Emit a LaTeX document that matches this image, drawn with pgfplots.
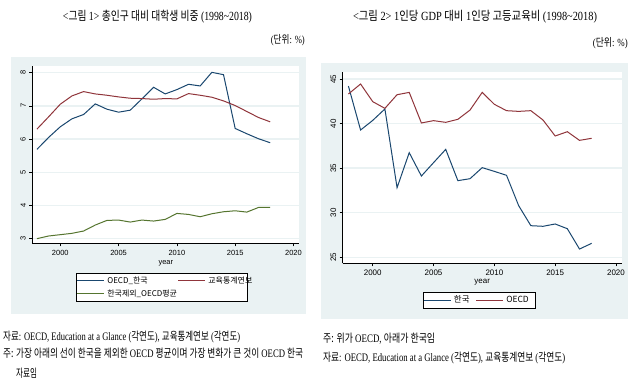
\documentclass[border=0pt]{standalone}
\usepackage{fontspec}
\usepackage{graphicx}
\usepackage{pgfplots}
\pgfplotsset{compat=1.18}
\setmainfont{Liberation Serif}
\newfontfamily\kr{Noto Sans CJK KR}
\newfontfamily\ars{Liberation Sans}
\definecolor{sblue}{RGB}{26,71,111}
\definecolor{sred}{RGB}{144,53,59}
\definecolor{sgreen}{RGB}{85,117,47}
\definecolor{bgc}{RGB}{234,242,243}
\pgfplotsset{stata/.style={
  scale only axis, axis lines=left, axis line style={-, black, line width=0.6bp},
  tick align=outside, major tick length=3bp, tick style={black, line width=0.6bp},
  ymajorgrids, grid style={bgc, line width=1.4bp},
  axis background/.style={fill=white},
  /pgf/number format/assume math mode=true,
  /pgf/number format/1000 sep={},
  yticklabel style={rotate=90, anchor=south},
  xtick={2000,2005,2010,2015,2020},
  legend columns=2,
  legend cell align=left,
  legend image code/.code={\draw[##1] (0bp,0bp) -- (27bp,0bp);},
  every axis plot/.append style={line width=1bp, mark=none},
}}
\newcommand{\lstrut}{\rule[-1.7bp]{0pt}{7.8bp}}
\begin{document}
\begin{tikzpicture}
\path[use as bounding box, fill=white] (0bp,0bp) rectangle (640bp,-384bp);
\fill[bgc] (10.7bp,-56.7bp) rectangle (306bp,-314.3bp);
\fill[bgc] (320.7bp,-63.3bp) rectangle (627.7bp,-319.3bp);

% ---------- Left panel ----------
\begin{axis}[stata,
  at={(32.3bp,-243.3bp)}, anchor=south west,
  width=267bp, height=177.6bp,
  xmin=1997.6, xmax=2020.5, ymin=2.86, ymax=8.21,
  ytick={3,4,5,6,7,8},
  ticklabel style={font=\ars\fontsize{7.5}{8}\selectfont},
  xlabel={year},
  xlabel style={font=\ars\fontsize{7.5}{8}\selectfont, at={(axis description cs:0.5,-0.1126)}, anchor=center},
  legend style={at={(axis description cs:0.164,-0.1655)}, anchor=north west,
    draw=black, line width=0.6bp, fill=white, inner xsep=0.5bp, inner ysep=1bp,
    font=\kr\fontsize{8}{9}\selectfont,
    nodes={inner sep=2.5bp},
    /tikz/every even column/.append style={column sep=0bp}},
]
\addplot[sblue] coordinates {(1998,5.69)(1999,6.05)(2000,6.37)(2001,6.61)(2002,6.74)(2003,7.06)(2004,6.90)(2005,6.81)(2006,6.87)(2007,7.21)(2008,7.56)(2009,7.36)(2010,7.49)(2011,7.65)(2012,7.60)(2013,8.01)(2014,7.94)(2015,6.32)(2016,6.16)(2017,6.01)(2018,5.89)};
\addlegendentry{\makebox[68bp][l]{\lstrut OECD\_한국}}
\addplot[sred] coordinates {(1998,6.30)(1999,6.67)(2000,7.05)(2001,7.30)(2002,7.43)(2003,7.36)(2004,7.32)(2005,7.27)(2006,7.23)(2007,7.22)(2008,7.20)(2009,7.22)(2010,7.21)(2011,7.37)(2012,7.32)(2013,7.26)(2014,7.15)(2015,7.01)(2016,6.83)(2017,6.65)(2018,6.52)};
\addlegendentry{\makebox[36bp][l]{\lstrut 교육통계연보}}
\addplot[sgreen] coordinates {(1998,3.00)(1999,3.08)(2000,3.12)(2001,3.16)(2002,3.23)(2003,3.41)(2004,3.55)(2005,3.56)(2006,3.50)(2007,3.56)(2008,3.53)(2009,3.58)(2010,3.76)(2011,3.73)(2012,3.66)(2013,3.75)(2014,3.81)(2015,3.84)(2016,3.80)(2017,3.94)(2018,3.94)};
\addlegendentry{\makebox[68bp][l]{\lstrut 한국제외\_OECD평균}}
\end{axis}

% ---------- Right panel ----------
\begin{axis}[stata,
  at={(342.7bp,-263.3bp)}, anchor=south west,
  width=279bp, height=191.6bp,
  xmin=1997.53, xmax=2020.47, ymin=24.33, ymax=45.82,
  ytick={25,30,35,40,45},
  ticklabel style={font=\ars\fontsize{8}{9}\selectfont},
  xlabel={year},
  xlabel style={font=\ars\fontsize{8}{9}\selectfont, at={(axis description cs:0.5,-0.0992)}, anchor=center},
  legend style={at={(axis description cs:0.2867,-0.148)}, anchor=north west,
    draw=black, line width=0.6bp, fill=white, inner xsep=0.5bp, inner ysep=1.5bp,
    font=\kr\fontsize{8.5}{9.5}\selectfont,
    nodes={inner sep=2.5bp},
    /tikz/every even column/.append style={column sep=0bp}},
]
\addplot[sblue] coordinates {(1998,44.21)(1999,39.28)(2000,40.36)(2001,41.64)(2002,32.81)(2003,36.74)(2004,34.12)(2005,35.62)(2006,37.11)(2007,33.60)(2008,33.82)(2009,35.06)(2010,34.64)(2011,34.20)(2012,30.79)(2013,28.55)(2014,28.48)(2015,28.74)(2016,28.21)(2017,25.93)(2018,26.57)};
\addlegendentry{\makebox[19.3bp][l]{\lstrut 한국}}
\addplot[sred] coordinates {(1998,43.32)(1999,44.44)(2000,42.46)(2001,41.71)(2002,43.24)(2003,43.50)(2004,40.07)(2005,40.33)(2006,40.14)(2007,40.48)(2008,41.52)(2009,43.50)(2010,42.16)(2011,41.45)(2012,41.37)(2013,41.45)(2014,40.40)(2015,38.61)(2016,39.09)(2017,38.12)(2018,38.35)};
\addlegendentry{\makebox[25.7bp][l]{\lstrut OECD}}
\end{axis}

% ---------- Titles and notes ----------
\node[inner sep=0pt] at (157.5bp,-16.5bp) {\resizebox{189bp}{\height}{\fontsize{12.5}{14}\selectfont <{\kr 그림} 1> {\kr 총인구 대비 대학생 비중} (1998\textasciitilde2018)}};
\node[inner sep=0pt, anchor=east] at (305bp,-40bp) {\resizebox{34bp}{\height}{\fontsize{11}{13}\selectfont ({\kr 단위}: \%)}};
\node[inner sep=0pt] at (475bp,-16.5bp) {\resizebox{244bp}{\height}{\fontsize{12.5}{14}\selectfont <{\kr 그림} 2> 1{\kr 인당} GDP {\kr 대비} 1{\kr 인당 고등교육비} (1998\textasciitilde2018)}};
\node[inner sep=0pt, anchor=east] at (628bp,-43bp) {\resizebox{35bp}{\height}{\fontsize{11}{13}\selectfont ({\kr 단위}: \%)}};

\node[inner sep=0pt, anchor=west] at (3bp,-336.7bp) {\resizebox{237bp}{\height}{\fontsize{11.5}{13}\selectfont {\kr 자료}: OECD, Education at a Glance ({\kr 각연도}), {\kr 교육통계연보} ({\kr 각연도})}};
\node[inner sep=0pt, anchor=west] at (3bp,-353bp) {\resizebox{300bp}{\height}{\fontsize{11.5}{13}\selectfont {\kr 주: 가장 아래의 선이 한국을 제외한} OECD {\kr 평균이며 가장 변화가 큰 것이} OECD {\kr 한국}}};
\node[inner sep=0pt, anchor=west] at (16bp,-373bp) {\resizebox{21bp}{\height}{\fontsize{11.5}{13}\selectfont {\kr 자료임}}};

\node[inner sep=0pt, anchor=west] at (323bp,-339bp) {\resizebox{112bp}{\height}{\fontsize{11.5}{13}\selectfont {\kr 주: 위가} OECD, {\kr 아래가 한국임}}};
\node[inner sep=0pt, anchor=west] at (323bp,-357.7bp) {\resizebox{242bp}{\height}{\fontsize{11.5}{13}\selectfont {\kr 자료}: OECD, Education at a Glance ({\kr 각연도}), {\kr 교육통계연보} ({\kr 각연도})}};
\end{tikzpicture}
\end{document}
